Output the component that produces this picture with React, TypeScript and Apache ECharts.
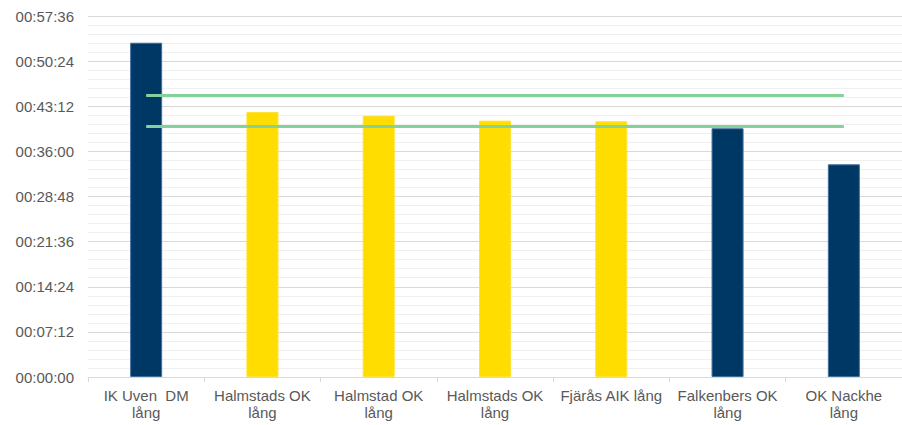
import React, { useEffect, useRef } from "react";
import * as echarts from "echarts";

const categories = [
  "IK Uven  DM\nlång",
  "Halmstads OK\nlång",
  "Halmstad OK\nlång",
  "Halmstads OK\nlång",
  "Fjärås AIK lång",
  "Falkenbers OK\nlång",
  "OK Nackhe\nlång",
];
const times = ["00:53:20", "00:42:17", "00:41:41", "00:40:54", "00:40:48", "00:39:41", "00:33:56"];
const groups = ["other", "hl", "hl", "hl", "hl", "other", "other"];
const targetTimes = ["00:45:00", "00:40:00"];
const axisMax = "00:57:36";
const axisStep = "00:07:12";

const toSec = (t: string) => {
  const [h, m, s] = t.split(":").map(Number);
  return h * 3600 + m * 60 + s;
};
const pad = (n: number) => String(n).padStart(2, "0");
const fmt = (v: number) => {
  const h = Math.floor(v / 3600);
  const m = Math.floor((v % 3600) / 60);
  const s = Math.round(v % 60);
  return `${pad(h)}:${pad(m)}:${pad(s)}`;
};

const NAVY = "#003865";
const YELLOW = "#FFDD00";
const GREEN = "#82D29A";
const FONT = "'Liberation Sans', Arial, sans-serif";

export default function App() {
  const ref = useRef<HTMLDivElement>(null);
  useEffect(() => {
    if (!ref.current) return;
    const chart = echarts.init(ref.current, null, { renderer: "svg" });
    const last = categories.length - 1;
    chart.setOption({
      animation: false,
      grid: { left: 88, right: -2, top: 16, bottom: 48 },
      xAxis: {
        type: "category",
        data: categories,
        axisLine: { lineStyle: { color: "#D9D9D9" } },
        axisTick: { show: true, length: 5, lineStyle: { color: "#D9D9D9" } },
        axisLabel: {
          color: "#595959",
          fontFamily: FONT,
          fontSize: 15,
          lineHeight: 17,
          margin: 10,
          interval: 0,
        },
      },
      yAxis: {
        type: "value",
        min: 0,
        max: toSec(axisMax),
        interval: toSec(axisStep),
        axisLine: { show: false },
        axisTick: { show: false },
        axisLabel: {
          color: "#595959",
          fontFamily: FONT,
          fontSize: 15,
          margin: 14,
          formatter: (v: number) => fmt(v),
        },
        splitLine: { lineStyle: { color: "#D9D9D9", width: 1 } },
        minorTick: { show: false, splitNumber: 5 },
        minorSplitLine: { show: true, lineStyle: { color: "#F0F0F0", width: 1 } },
      },
      series: [
        {
          type: "bar",
          barWidth: 32,
          data: times.map((t, i) => ({
            value: toSec(t),
            itemStyle: {
              color: groups[i] === "hl" ? YELLOW : NAVY,
              borderColor: groups[i] === "hl" ? "#FFE033" : "#3C6D99",
              borderWidth: 1,
            },
          })),
          markLine: {
            silent: true,
            symbol: "none",
            label: { show: false },
            lineStyle: { color: GREEN, width: 3, type: "solid" },
            data: targetTimes.map((t) => [
              { coord: [0, toSec(t)] },
              { coord: [last, toSec(t)] },
            ]),
          },
        },
      ],
    });
    return () => chart.dispose();
  }, []);
  return (
    <div
      ref={ref}
      style={{ position: "fixed", left: 0, top: 0, width: 902, height: 425, background: "#fff" }}
    />
  );
}
